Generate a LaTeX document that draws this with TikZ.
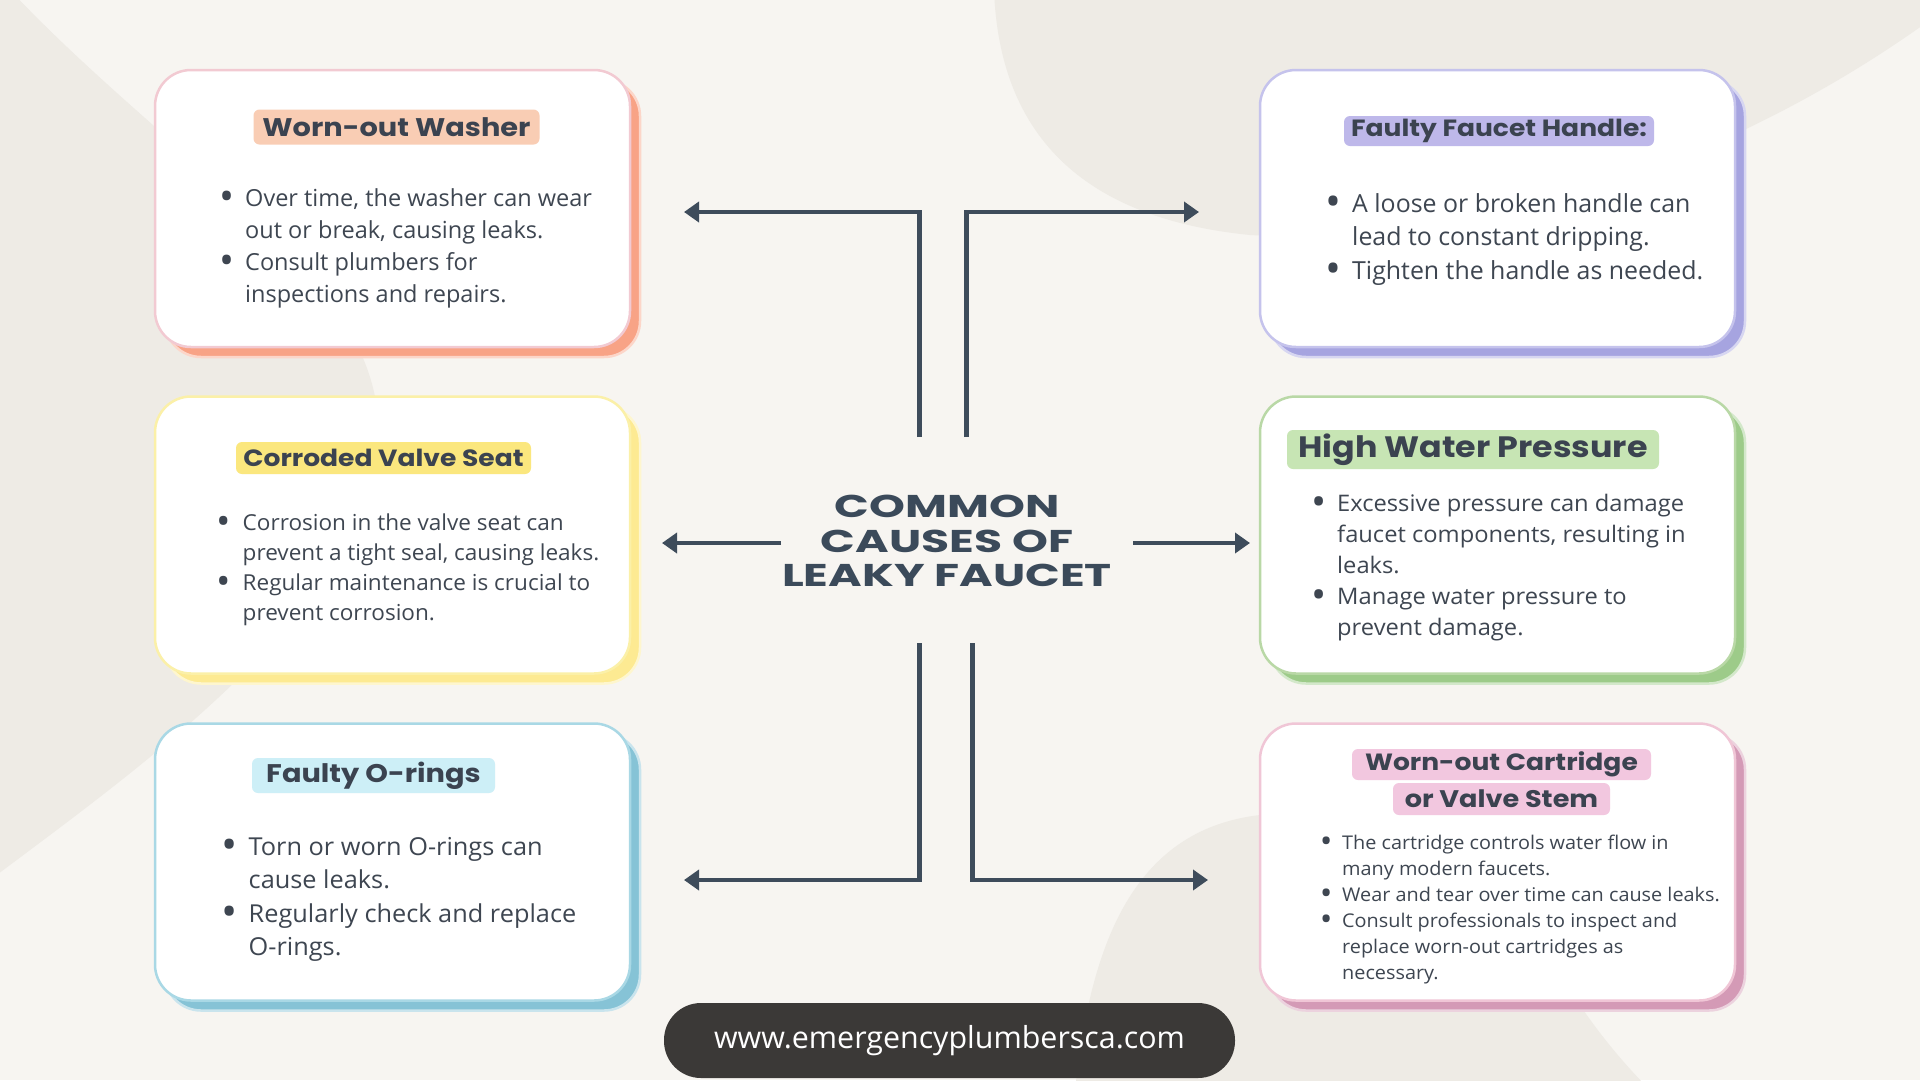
\documentclass[tikz,border=0pt]{standalone}
\usepackage{fontspec}
\setmainfont{Open Sans}
\newfontfamily\wideA[FakeStretch=1.025]{Open Sans}
\newfontfamily\wideB[FakeStretch=1.04]{Open Sans}
\newfontfamily\wideC[FakeStretch=1.05]{Open Sans}
\newfontfamily\headfont[FakeStretch=1.13]{Poppins}
\newfontfamily\bigheadfont[FakeStretch=1.45]{Poppins}
\usetikzlibrary{arrows.meta}
\definecolor{bgc}{HTML}{F7F5F1}
\definecolor{blobc}{HTML}{EEEBE5}
\definecolor{bodytxt}{HTML}{3E4651}
\definecolor{titletxt}{HTML}{3B4350}
\definecolor{connc}{HTML}{3E4C5B}
\definecolor{maintxt}{HTML}{3B4A5A}
\definecolor{pillbg}{HTML}{3B3937}
% washer
\definecolor{waB}{HTML}{F2CAD2}\definecolor{waS}{HTML}{F8A386}\definecolor{waP}{HTML}{F9CDB4}
% valve
\definecolor{vaB}{HTML}{FBF0A8}\definecolor{vaS}{HTML}{FDEA92}\definecolor{vaP}{HTML}{FBE77E}
% o-rings
\definecolor{orB}{HTML}{A9D8E5}\definecolor{orS}{HTML}{86C3D6}\definecolor{orP}{HTML}{CDEFF7}
% handle
\definecolor{haB}{HTML}{C5C3EC}\definecolor{haS}{HTML}{A6A4E0}\definecolor{haP}{HTML}{BEB8EA}
% high water
\definecolor{hwB}{HTML}{B9D8A6}\definecolor{hwS}{HTML}{9DCB89}\definecolor{hwP}{HTML}{C7E5B4}
% cartridge
\definecolor{caB}{HTML}{F0C6D6}\definecolor{caS}{HTML}{D49AB6}\definecolor{caP}{HTML}{F2C7DF}
\tikzset{
  card/.style={draw=#1, line width=2.5pt, fill=white, rounded corners=36pt,
    minimum width=475pt, minimum height=277pt, inner sep=0pt},
  shadowcard/.style={draw=#1!45!white, line width=2.5pt, fill=#1, rounded corners=36pt,
    minimum width=475pt, minimum height=277pt, inner sep=0pt},
  pilltag/.style={fill=#1, rounded corners=6pt, inner sep=0pt, text=titletxt},
  bodytext/.style={text=bodytxt, inner sep=0pt, anchor=base west},
  maintitle/.style={text=maintxt, inner sep=0pt, anchor=base,
    font=\bigheadfont\bfseries\fontsize{31.5}{35}\selectfont},
  conn/.style={line width=4.5pt, draw=connc, -{Triangle[length=15pt,width=20pt]}},
}
\newcommand\bul[1]{\makebox[#1]{\raisebox{-0.19em}{\scalebox{1.7}{\textbullet}}}}
\begin{document}
\begin{tikzpicture}[x=1pt,y=-1pt]
\useasboundingbox (0,0) rectangle (1920,1080);
\fill[bgc] (0,0) rectangle (1920,1080);
\begin{scope}
\clip (0,0) rectangle (1920,1080);
\fill[blobc] (-10,-10) -- (10,-10) .. controls (170,160) and (380,280) .. (378,430)
  .. controls (376,600) and (150,760) .. (-10,880) -- cycle;
\fill[blobc] (994,-10) .. controls (1000,150) and (1100,220) .. (1250,235)
  .. controls (1500,250) and (1750,150) .. (1930,20) -- (1930,-10) -- cycle;
\fill[blobc] (1075,1090) .. controls (1090,950) and (1130,830) .. (1260,815)
  -- (1480,815) .. controls (1520,900) and (1560,1000) .. (1650,1090) -- cycle;
\end{scope}

% shadows
\node[shadowcard=waS] (waSh) at (402.5,218.5) {};
\node[shadowcard=vaS] (vaSh) at (402.5,545) {};
\node[shadowcard=orS] (orSh) at (402.5,872) {};
\node[shadowcard=haS] (haSh) at (1507.5,218.5) {};
\node[shadowcard=hwS] (hwSh) at (1507.5,545) {};
\node[shadowcard=caS] (caSh) at (1507.5,872) {};
% cards
\node[card=waB] (wa) at (392.5,208.5) {};
\node[card=vaB] (va) at (392.5,535) {};
\node[card=orB] (or) at (392.5,862) {};
\node[card=haB] (ha) at (1497.5,208.5) {};
\node[card=hwB] (hw) at (1497.5,535) {};
\node[card=caB] (ca) at (1497.5,862) {};

% title tags
\node[pilltag=waP, minimum width=286pt, minimum height=35pt, font=\headfont\bfseries\fontsize{25.5}{28}\selectfont] (waT) at (396.5,127) {Worn-out Washer};
\node[pilltag=vaP, minimum width=295pt, minimum height=32pt, font=\headfont\bfseries\fontsize{23.5}{26}\selectfont] (vaT) at (383.5,458) {Corroded Valve Seat};
\node[pilltag=orP, minimum width=243pt, minimum height=35pt, font=\headfont\bfseries\fontsize{25.5}{28}\selectfont] (orT) at (373.5,775.5) {Faulty O-rings};
\node[pilltag=haP, minimum width=310pt, minimum height=30pt, font=\headfont\bfseries\fontsize{23.5}{25}\selectfont] (haT) at (1499,131) {Faulty Faucet Handle:};
\node[pilltag=hwP, minimum width=372pt, minimum height=39pt, font=\headfont\bfseries\fontsize{29.5}{32}\selectfont] (hwT) at (1473,449.5) {High Water Pressure};
\node[pilltag=caP, minimum width=299pt, minimum height=31pt, font=\headfont\bfseries\fontsize{23.5}{28}\selectfont] (caT1) at (1501.5,764.5) {Worn-out Cartridge};
\node[pilltag=caP, minimum width=217pt, minimum height=32pt, font=\headfont\bfseries\fontsize{24}{28}\selectfont] (caT2) at (1501.5,799) {or Valve Stem};

% body texts
\node[bodytext, font=\fontsize{23.5}{32}\selectfont] (waX) at (208,206.5) {\begin{tabular}[t]{@{}l@{}l@{}}
\bul{37pt} & Over time, the washer can wear\\
 & out or break, causing leaks.\\
\bul{37pt} & Consult plumbers for\\
 & inspections and repairs.
\end{tabular}};
\node[bodytext, font=\wideA\fontsize{22}{30}\selectfont] (vaX) at (205.5,530) {\begin{tabular}[t]{@{}l@{}l@{}}
\bul{37pt} & Corrosion in the valve seat can\\
 & prevent a tight seal, causing leaks.\\
\bul{37pt} & Regular maintenance is crucial to\\
 & prevent corrosion.
\end{tabular}};
\node[bodytext, font=\wideA\fontsize{24.7}{33.5}\selectfont] (orX) at (209.5,855) {\begin{tabular}[t]{@{}l@{}l@{}}
\bul{39pt} & Torn or worn O-rings can\\
 & cause leaks.\\
\bul{39pt} & Regularly check and replace\\
 & O-rings.
\end{tabular}};
\node[bodytext, font=\fontsize{24.9}{33.5}\selectfont] (haX) at (1314,212) {\begin{tabular}[t]{@{}l@{}l@{}}
\bul{38pt} & A loose or broken handle can\\
 & lead to constant dripping.\\
\bul{38pt} & Tighten the handle as needed.
\end{tabular}};
\node[bodytext, font=\wideB\fontsize{22.8}{31}\selectfont] (hwX) at (1301,511) {\begin{tabular}[t]{@{}l@{}l@{}}
\bul{36pt} & Excessive pressure can damage\\
 & faucet components, resulting in\\
 & leaks.\\
\bul{36pt} & Manage water pressure to\\
 & prevent damage.
\end{tabular}};
\node[bodytext, font=\wideC\fontsize{18.9}{26}\selectfont] (caX) at (1310,849) {\begin{tabular}[t]{@{}l@{}l@{}}
\bul{32pt} & The cartridge controls water flow in\\
 & many modern faucets.\\
\bul{32pt} & Wear and tear over time can cause leaks.\\
\bul{32pt} & Consult professionals to inspect and\\
 & replace worn-out cartridges as\\
 & necessary.
\end{tabular}};

% main title
\node[maintitle] (mt1) at (947,517) {COMMON};
\node[maintitle] (mt2) at (947,552) {CAUSES OF};
\node[maintitle] (mt3) at (947,586) {LEAKY FAUCET};

% connectors
\coordinate (tlS) at (919.5,437);
\coordinate (tlE) at (684,212);
\coordinate (trS) at (966.5,437);
\coordinate (trE) at (1199,212);
\coordinate (mlS) at (781,543);
\coordinate (mlE) at (662,543);
\coordinate (mrS) at (1133,543);
\coordinate (mrE) at (1250,543);
\coordinate (blS) at (919.5,643);
\coordinate (blE) at (684,880);
\coordinate (brS) at (972.5,643);
\coordinate (brE) at (1208,880);
\draw[conn] (tlS) |- (tlE);
\draw[conn] (trS) |- (trE);
\draw[conn] (mlS) -- (mlE);
\draw[conn] (mrS) -- (mrE);
\draw[conn] (blS) |- (blE);
\draw[conn] (brS) |- (brE);

% footer
\node[fill=pillbg, rounded corners=37pt, minimum width=571pt, minimum height=75pt, inner sep=0pt,
  text=white, font=\fontsize{30.4}{36}\selectfont] (web) at (949.5,1040.5) {www.emergencyplumbersca.com};
\end{tikzpicture}
\end{document}
